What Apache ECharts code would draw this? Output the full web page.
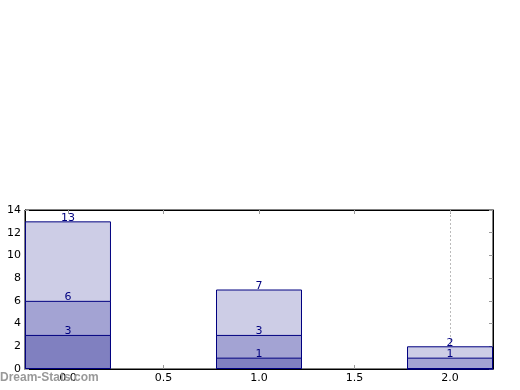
<!DOCTYPE html>
<html><head><meta charset="utf-8">
<script src="https://cdn.jsdelivr.net/npm/echarts@6/dist/echarts.min.js"></script>
<style>html,body{margin:0;padding:0;background:#fff}#c{width:520px;height:390px}</style>
</head><body><div id="c"></div>
<script>
const positions = [0, 1, 2];
const seg1 = [3, 1, 0];
const seg2 = [3, 2, 1];
const seg3 = [7, 4, 1];
const xTicks = [0, 0.5, 1, 1.5, 2];
const yTicks = [0, 2, 4, 6, 8, 10, 12, 14];

const segs = [seg1, seg2, seg3];
const colors = ['#8080c0', '#a3a3d3', '#cdcde6'];
const cum = [];
segs.forEach((s, k) => {
  cum.push(s.map((v, i) => v + (k ? cum[k - 1][i] : 0)));
});

const chart = echarts.init(document.getElementById('c'), null, {renderer: 'canvas'});
const fontFamily = 'DejaVu Sans';
const tickStyle = {lineStyle: {color: '#999', width: 1}, inside: true, length: 4};

// Draw cumulative totals back-to-front so each segment shows as a stacked block
const series = [];
for (let k = segs.length - 1; k >= 0; k--) {
  series.push({
    type: 'bar',
    barWidth: 86,
    barGap: '-100%',
    z: 3,
    data: positions.map((x, i) => ({
      value: [x, cum[k][i]],
      label: {show: segs[k][i] !== 0}
    })),
    itemStyle: {color: colors[k], borderColor: '#000080', borderWidth: 1},
    label: {
      show: true, position: 'top', distance: -2,
      color: '#000080', fontFamily, fontSize: 11,
      formatter: p => String(p.value[1])
    }
  });
}
series.push({
  type: 'line', data: [], z: 1,
  markLine: {
    silent: true, symbol: 'none', z: 1, animation: false,
    label: {show: false},
    lineStyle: {color: '#bbb', type: [2, 2], width: 1},
    data: [{xAxis: 2}]
  }
});

chart.setOption({
  animation: false,
  grid: {left: 25, top: 210, width: 468, height: 159, show: true, borderColor: '#000', borderWidth: 1, backgroundColor: 'transparent'},
  xAxis: [{
    type: 'value', min: -0.225, max: 2.225, position: 'bottom',
    axisLine: {show: true, onZero: false, lineStyle: {color: '#000'}},
    axisTick: Object.assign({customValues: xTicks}, tickStyle),
    axisLabel: {customValues: xTicks, formatter: v => v.toFixed(1), color: '#000', fontFamily, fontSize: 11, margin: 4},
    splitLine: {show: false}
  }, {
    type: 'value', min: -0.225, max: 2.225, position: 'top',
    axisLine: {show: true, onZero: false, lineStyle: {color: '#000'}},
    axisTick: Object.assign({customValues: xTicks}, tickStyle),
    axisLabel: {show: false},
    splitLine: {show: false}
  }],
  yAxis: [{
    type: 'value', min: 0, max: 14, position: 'left',
    axisLine: {show: true, onZero: false, lineStyle: {color: '#000'}},
    axisTick: Object.assign({customValues: yTicks}, tickStyle),
    axisLabel: {customValues: yTicks, color: '#000', fontFamily, fontSize: 11, margin: 4},
    splitLine: {show: false}
  }, {
    type: 'value', min: 0, max: 14, position: 'right',
    axisLine: {show: true, onZero: false, lineStyle: {color: '#000'}},
    axisTick: Object.assign({customValues: yTicks}, tickStyle),
    axisLabel: {show: false},
    splitLine: {show: false}
  }],
  series,
  graphic: [{
    type: 'text', left: 0, top: 372, z: 10,
    style: {text: 'Dream-Stats.com', fill: '#999', font: 'bold 12px "Liberation Sans"'}
  }]
});
</script>
</body></html>
